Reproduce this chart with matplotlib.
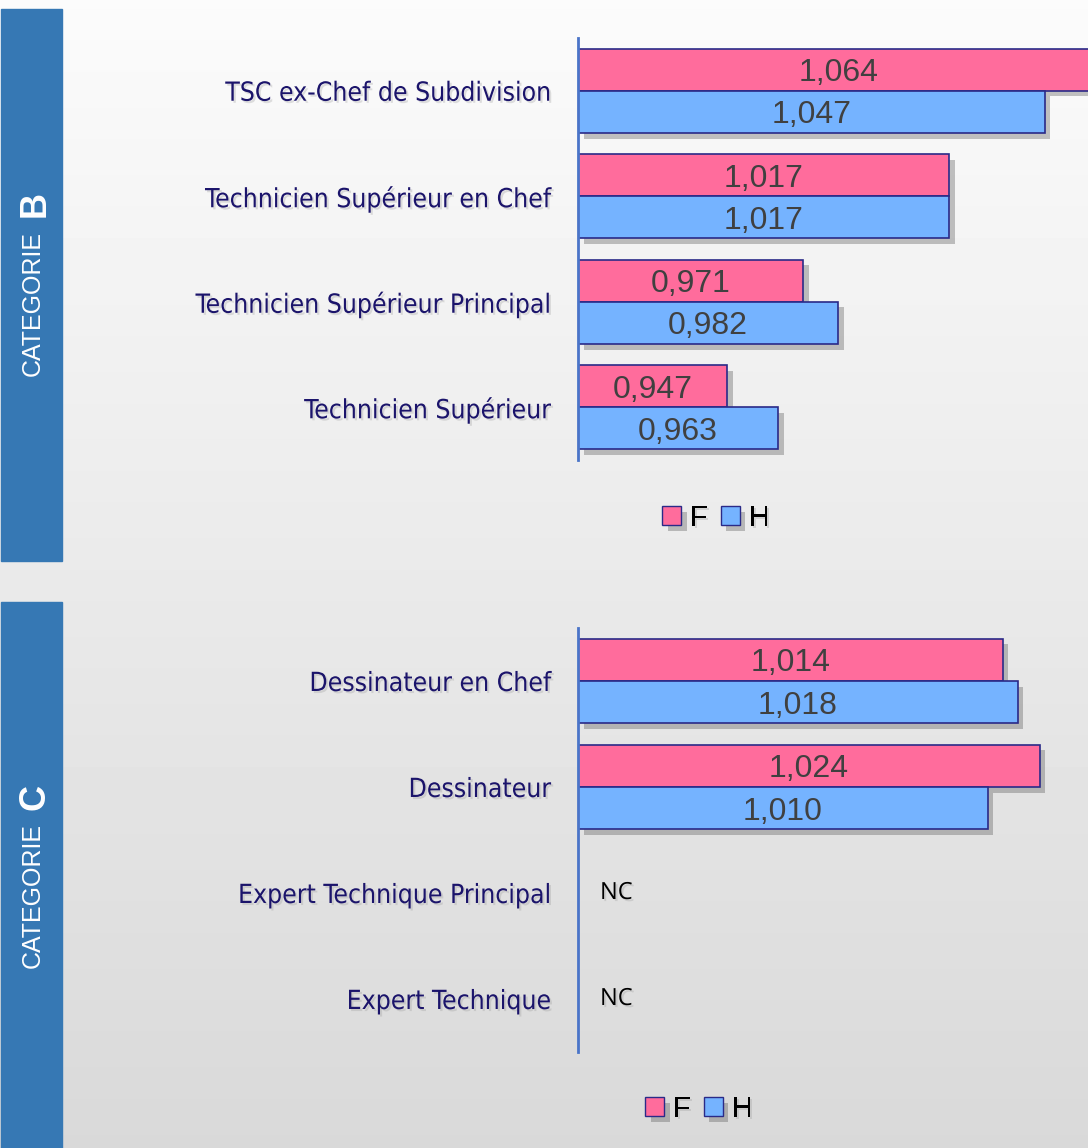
import numpy as np
import matplotlib
matplotlib.use("Agg")
import matplotlib.pyplot as plt
import matplotlib.patheffects as pe
from matplotlib.patches import Rectangle, Patch
from matplotlib import font_manager as fm

# -----------------------------
# Données
# -----------------------------
cat_b = ["TSC ex-Chef de Subdivision", "Technicien Supérieur en Chef",
         "Technicien Supérieur Principal", "Technicien Supérieur"]
b_f = [1.064, 1.017, 0.971, 0.947]
b_h = [1.047, 1.017, 0.982, 0.963]

cat_c = ["Dessinateur en Chef", "Dessinateur",
         "Expert Technique Principal", "Expert Technique"]
c_f = [1.014, 1.024, None, None]
c_h = [1.018, 1.010, None, None]

legend_labels = ["F", "H"]

# -----------------------------
# Style
# -----------------------------
PINK = "#ff6c9c"
BLUE = "#75b3ff"
EDGE = "#2a2a88"
SIDE = "#3678b4"
NAVY = "#1b146b"
SANS = ["Liberation Sans", "DejaVu Sans"]

# police étroite pour les catégories, si disponible
narrow = [f.fname for f in fm.fontManager.ttflist
          if "narrow" in f.name.lower() or "condensed" in f.fname.lower()]
narrow = sorted(narrow, key=lambda p: ("Bold" in p or "Oblique" in p or "Italic" in p, len(p)))
if narrow:
    NARROW_PROP = fm.FontProperties(fname=narrow[0], size=19)
else:
    NARROW_PROP = fm.FontProperties(family="DejaVu Sans", size=18)

W, H = 1088, 1148
fig = plt.figure(figsize=(W / 100, H / 100), dpi=100)

# fond en dégradé
bg = fig.add_axes([0, 0, 1, 1], zorder=-10)
grad = np.linspace(0.985, 0.85, 256).reshape(-1, 1)
bg.imshow(grad, aspect="auto", cmap="gray", vmin=0, vmax=1, extent=[0, 1, 0, 1])
bg.set_axis_off()


def px_rect(x0, y0, x1, y1):
    return [x0 / W, 1 - y1 / H, (x1 - x0) / W, (y1 - y0) / H]


# bandeaux latéraux
for (y0, y1) in [(9, 561), (602, 1148)]:
    fig.patches.append(Rectangle((1 / W, 1 - y1 / H), 61 / W, (y1 - y0) / H,
                                 transform=fig.transFigure, color=SIDE, zorder=1))

fig.text(33 / W, 1 - 304 / H, "CATEGORIE", rotation=90, ha="center", va="center",
         color="white", fontsize=18, family=SANS)
fig.text(35 / W, 1 - 204 / H, "B", rotation=90, ha="center", va="center",
         color="white", fontsize=26, fontweight="bold", family=SANS)
fig.text(33 / W, 1 - 896 / H, "CATEGORIE", rotation=90, ha="center", va="center",
         color="white", fontsize=18, family=SANS)
fig.text(35 / W, 1 - 797 / H, "C", rotation=90, ha="center", va="center",
         color="white", fontsize=26, fontweight="bold", family=SANS)

bar_fx = [pe.SimplePatchShadow(offset=(4, -4), shadow_rgbFace="#555555", alpha=0.35), pe.Normal()]
txt_fx = [pe.SimplePatchShadow(offset=(1.5, -1.5), shadow_rgbFace="#999999", alpha=0.3), pe.Normal()]


def draw_panel(rect, cats, vf, vh, xmax, leg_y, leg_x):
    ax = fig.add_axes(rect)
    ax.patch.set_alpha(0)
    y = np.arange(len(cats))
    for vals, off, col in [(vf, -0.2, PINK), (vh, 0.2, BLUE)]:
        for yi, v in zip(y, vals):
            if v is None:
                continue
            b = ax.barh(yi + off, v - 0.9, left=0.9, height=0.4, color=col,
                        edgecolor=EDGE, linewidth=1.2)
            b[0].set_path_effects(bar_fx)
            ax.text((0.9 + v) / 2, yi + off, f"{v:.3f}".replace(".", ","),
                    ha="center", va="center_baseline", fontsize=23, color="#404040",
                    family=SANS)
    for yi, a, b in zip(y, vf, vh):
        if a is None and b is None:
            ax.text(0.9 + (xmax - 0.9) * 22 / 510, yi, "NC", ha="left", va="center",
                    fontsize=17, color="black", family=["Open Sans", "DejaVu Sans"],
                    path_effects=txt_fx)
    ax.set_xlim(0.9, xmax)
    ax.set_ylim(len(cats) - 0.5, -0.5)
    ax.set_yticks(y)
    ax.set_yticklabels(cats, color=NAVY, fontproperties=NARROW_PROP)
    for t in ax.get_yticklabels():
        t.set_path_effects(txt_fx)
    ax.tick_params(axis="y", length=0, pad=19.5)
    ax.set_xticks([])
    for s in ["top", "right", "bottom"]:
        ax.spines[s].set_visible(False)
    ax.spines["left"].set_color("#4a74c8")
    ax.spines["left"].set_linewidth(2)

    handles = [Patch(facecolor=PINK, edgecolor=EDGE), Patch(facecolor=BLUE, edgecolor=EDGE)]
    leg = fig.legend(handles, legend_labels, loc="center", ncol=2, frameon=False,
                     bbox_to_anchor=(leg_x / W, 1 - leg_y / H),
                     handlelength=0.65, handleheight=0.65, handletextpad=0.3,
                     columnspacing=0.45, prop={"family": SANS, "size": 21})
    for p in leg.get_patches():
        p.set_path_effects(bar_fx)
    for t in leg.get_texts():
        t.set_path_effects(txt_fx)
    return ax


draw_panel(px_rect(578, 38, 1088, 460), cat_b, b_f, b_h, 0.9 + 510 / 3175, 518, 716)
draw_panel(px_rect(578, 628, 1088, 1052), cat_c, c_f, c_h, 0.9 + 510 / 3725, 1109, 699)

fig.savefig("out.png", dpi=100)
